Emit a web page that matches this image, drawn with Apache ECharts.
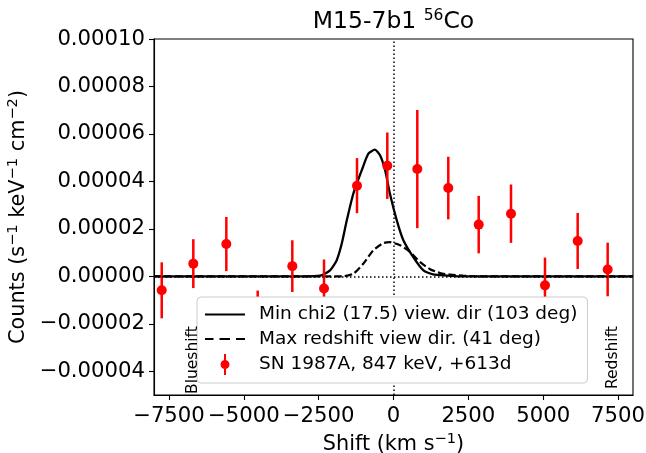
<!DOCTYPE html>
<html>
<head>
<meta charset="utf-8">
<script src="https://cdn.jsdelivr.net/npm/echarts@6/dist/echarts.min.js"></script>
<style>
html,body{margin:0;padding:0;background:#fff;}
#chart{width:646px;height:453px;}
</style>
</head>
<body>
<div id="chart"></div>
<script>
// ---- data ----
const xTicks = [-7500, -5000, -2500, 0, 2500, 5000, 7500];
const yTicks = [-0.00004, -0.00002, 0, 0.00002, 0.00004, 0.00006, 0.00008, 0.0001];

const obsShift  = [-7742, -6687, -5584, -4536, -3380, -2321, -1219, -207, 795, 1830, 2846, 3925, 5060, 6152, 7154];
const obsCounts = [-5.9e-6, 5.35e-6, 1.36e-5, -1.7e-5, 4.3e-6, -5.1e-6, 3.82e-5, 4.66e-5, 4.52e-5, 3.72e-5, 2.18e-5, 2.64e-5, -3.8e-6, 1.49e-5, 2.9e-6];
const obsErr    = [1.18e-5, 1.03e-5, 1.14e-5, 1.1e-5, 1.09e-5, 1.22e-5, 1.16e-5, 1.4e-5, 2.49e-5, 1.32e-5, 1.21e-5, 1.23e-5, 1.17e-5, 1.18e-5, 1.13e-5];

const minShift  = [-8000, -3100, -2450, -2120, -1900, -1730, -1560, -1340, -1060, -840, -620, -450, -280, -120, 110, 330, 660, 1000, 1320, 1780, 2200, 8000];
const minCounts = [0, 0, 0.3e-6, 2.5e-6, 6.7e-6, 1.37e-5, 2.36e-5, 3.49e-5, 4.47e-5, 5.17e-5, 5.34e-5, 5.10e-5, 4.47e-5, 3.49e-5, 2.36e-5, 1.52e-5, 8.1e-6, 2.5e-6, 0.8e-6, 0.3e-6, 0, 0];

const maxShift  = [-8000, -1680, -1340, -1010, -680, -340, -120, 220, 550, 890, 1220, 1550, 1890, 2320, 2800, 8000];
const maxCounts = [0, 0, 1.1e-6, 5.3e-6, 1.09e-5, 1.40e-5, 1.44e-5, 1.31e-5, 1.03e-5, 6e-6, 3e-6, 1.4e-6, 0.7e-6, 0.3e-6, 0, 0];

const nameMin = 'Min chi2 (17.5) view. dir (103 deg)';
const nameMax = 'Max redshift view dir. (41 deg)';
const nameObs = 'SN 1987A, 847 keV, +613d';

// ---- chart ----
const FONT = 'DejaVu Sans';
const chart = echarts.init(document.getElementById('chart'), null, {renderer: 'canvas'});
const minus = s => String(s).replace('-', '\u2212');

const errIcon = 'path://M4,0h2v21h-2z M0.5,10.5a4.5,4.5 0 1,1 9,0a4.5,4.5 0 1,1 -9,0z';
const solidIcon = 'path://M0,0h40v2.2h-40z';
const dashIcon = 'path://M0,0h8.5v2.2h-8.5z M14.5,0h10.5v2.2h-10.5z M31,0h9v2.2h-9z';

const axisNameRich = {
  a: {fontFamily: FONT, fontSize: 20.8, color: '#000', lineHeight: 26, verticalAlign: 'middle'},
  s: {fontFamily: FONT, fontSize: 14.6, color: '#000', lineHeight: 18, verticalAlign: 'top'}
};

const option = {
  animation: false,
  backgroundColor: '#ffffff',
  title: {
    text: '{a|M15-7b1 }{s|56}{a|Co}',
    left: 393.5,
    textAlign: 'center',
    top: 8,
    padding: 0,
    textStyle: {
      fontFamily: FONT, fontSize: 23.5, fontWeight: 'normal', color: '#000',
      rich: {
        a: {fontFamily: FONT, fontSize: 23.5, color: '#000', lineHeight: 28, verticalAlign: 'middle'},
        s: {fontFamily: FONT, fontSize: 15.5, color: '#000', lineHeight: 20, verticalAlign: 'top'}
      }
    }
  },
  grid: {
    left: 154, right: 13, top: 39, bottom: 58,
    outerBoundsMode: 'none', containLabel: false,
    show: true, borderColor: '#000', borderWidth: 1.1, backgroundColor: 'transparent'
  },
  xAxis: {
    type: 'value', min: -8000, max: 8000,
    name: '{a|Shift (km s}{s|\u22121}{a|)}', nameLocation: 'middle', nameGap: 29,
    nameTextStyle: {fontFamily: FONT, fontSize: 20.8, color: '#000', rich: axisNameRich},
    axisLine: {show: true, onZero: false, lineStyle: {color: '#000', width: 1.1}},
    axisTick: {show: true, length: 5, lineStyle: {color: '#000', width: 1.1}, customValues: xTicks},
    axisLabel: {fontFamily: FONT, fontSize: 21.2, color: '#000', margin: 11, customValues: xTicks, formatter: v => minus(v)},
    splitLine: {show: false}
  },
  yAxis: {
    type: 'value', min: -0.00005, max: 0.0001,
    name: '{a|Counts (s}{s|\u22121}{a| keV}{s|\u22121}{a| cm}{s|\u22122}{a|)}',
    nameLocation: 'middle', nameGap: 108, nameRotate: 90,
    nameTextStyle: {fontFamily: FONT, fontSize: 20.8, color: '#000', rich: axisNameRich},
    axisLine: {show: true, onZero: false, lineStyle: {color: '#000', width: 1.1}},
    axisTick: {show: true, length: 5, lineStyle: {color: '#000', width: 1.1}, customValues: yTicks},
    axisLabel: {fontFamily: FONT, fontSize: 21.2, color: '#000', margin: 9, customValues: yTicks, formatter: v => minus(v.toFixed(5))},
    splitLine: {show: false}
  },
  legend: {
    orient: 'vertical', left: 197, top: 297, z: 20,
    padding: [8, 10, 8, 8],
    itemWidth: 40, itemHeight: 21, itemGap: 5.5,
    backgroundColor: '#ffffff', borderColor: '#cccccc', borderWidth: 1, borderRadius: 4,
    textStyle: {fontFamily: FONT, fontSize: 18.5, color: '#000', padding: [0, 0, 0, 9]},
    selectedMode: false,
    data: [
      {name: nameMin, icon: solidIcon, itemStyle: {color: '#000'}},
      {name: nameMax, icon: dashIcon, itemStyle: {color: '#000'}},
      {name: nameObs, icon: errIcon}
    ]
  },
  series: [
    {
      name: 'zero-lines', type: 'line', data: [], silent: true, z: 1,
      markLine: {
        silent: true, symbol: 'none', label: {show: false},
        lineStyle: {color: '#000', width: 1.5, type: [1.5, 2.5]},
        data: [{xAxis: 0}, {yAxis: 0}]
      }
    },
    {
      name: nameMax, type: 'line', symbol: 'none', showSymbol: false, smooth: 0.2, z: 2,
      data: maxShift.map((x, i) => [x, maxCounts[i]]),
      lineStyle: {color: '#000', width: 2.2, type: [7.4, 3.2]},
      itemStyle: {color: '#000'}
    },
    {
      name: nameMin, type: 'line', symbol: 'none', showSymbol: false, smooth: 0.2, z: 2,
      data: minShift.map((x, i) => [x, minCounts[i]]),
      lineStyle: {color: '#000', width: 2.3},
      itemStyle: {color: '#000'}
    },
    {
      name: 'errbars', type: 'custom', z: 3,
      data: obsShift.map((x, i) => [x, obsCounts[i], obsErr[i]]),
      encode: {x: 0, y: 1},
      renderItem: function (params, api) {
        const x = api.value(0), y = api.value(1), e = api.value(2);
        const a = api.coord([x, y + e]);
        const b = api.coord([x, y - e]);
        return {type: 'line', shape: {x1: a[0], y1: a[1], x2: b[0], y2: b[1]}, style: {stroke: '#ff0000', lineWidth: 2.5}};
      }
    },
    {
      name: nameObs, type: 'scatter', z: 4, symbol: 'circle', symbolSize: 10,
      data: obsShift.map((x, i) => [x, obsCounts[i]]),
      itemStyle: {color: '#ff0000', opacity: 1}
    }
  ],
  graphic: [
    {type: 'text', x: 201, y: 394, rotation: Math.PI / 2, z: 30,
     style: {text: 'Blueshift', font: '15.5px "DejaVu Sans"', fill: '#000', align: 'left', verticalAlign: 'bottom'}},
    {type: 'text', x: 620.5, y: 389, rotation: Math.PI / 2, z: 30,
     style: {text: 'Redshift', font: '15.5px "DejaVu Sans"', fill: '#000', align: 'left', verticalAlign: 'bottom'}}
  ]
};
chart.setOption(option);
</script>
</body>
</html>
